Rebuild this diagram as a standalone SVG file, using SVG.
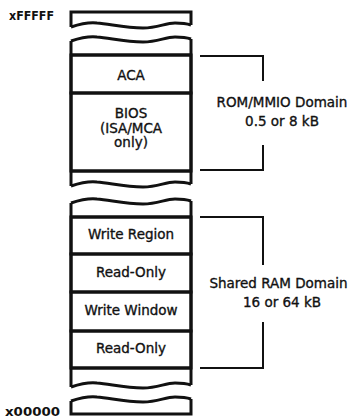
<svg xmlns="http://www.w3.org/2000/svg" xmlns:xlink="http://www.w3.org/1999/xlink" width="349" height="419" viewBox="0 0 349 419">
<style>
.s{fill:none;stroke:#111;stroke-width:3;stroke-linejoin:miter}
.b{fill:none;stroke:#111;stroke-width:2}
.t{font-family:"DejaVu Sans",sans-serif;font-size:13.5px;fill:#111;stroke:#111;stroke-width:0.35;text-anchor:middle}
.a{font-family:"DejaVu Sans",sans-serif;font-size:12.5px;font-weight:bold;fill:#111}
</style>
<defs>
<path id="wave" class="s" d="M71,0 C80,-3 88,-5 97,-4 C110,-3 125,1 143,1 C158,1 165,-4 175,-4 C183,-4 188,-3 191,-2"/>
</defs>
<rect width="349" height="419" fill="#fff"/>
<g id="addr-labels">
<text class="a" x="9" y="20" textLength="45" lengthAdjust="spacingAndGlyphs">xFFFFF</text>
<text class="a" x="5" y="416" textLength="55" lengthAdjust="spacingAndGlyphs">x00000</text>
</g>
<g id="top-cap">
<path class="s" d="M71,27 V12 H191 V25"/>
<use xlink:href="#wave" transform="translate(0,27)"/>
</g>
<g id="rom-section">
<use xlink:href="#wave" transform="translate(0,41)"/>
<path class="s" d="M71,41 V186 M191,39 V184 M71,55 H191 M71,171 H191"/>
<use xlink:href="#wave" transform="translate(0,186)"/>
</g>
<g id="aca">
<rect class="s" x="71" y="55" width="120" height="38"/>
<text class="t" x="131" y="80">ACA</text>
</g>
<g id="bios">
<rect class="s" x="71" y="93" width="120" height="78"/>
<text class="t" x="131" y="118">BIOS</text>
<text class="t" x="131" y="132.5">(ISA/MCA</text>
<text class="t" x="131" y="147">only)</text>
</g>
<g id="ram-section">
<use xlink:href="#wave" transform="translate(0,203)"/>
<path class="s" d="M71,203 V387 M191,201 V385 M71,217 H191 M71,368 H191"/>
<use xlink:href="#wave" transform="translate(0,387)"/>
</g>
<g id="write-region">
<rect class="s" x="71" y="217" width="120" height="37"/>
<text class="t" x="131" y="239">Write Region</text>
</g>
<g id="read-only-1">
<rect class="s" x="71" y="254" width="120" height="38"/>
<text class="t" x="131" y="277">Read-Only</text>
</g>
<g id="write-window">
<rect class="s" x="71" y="292" width="120" height="39"/>
<text class="t" x="131" y="315">Write Window</text>
</g>
<g id="read-only-2">
<rect class="s" x="71" y="331" width="120" height="37"/>
<text class="t" x="131" y="353">Read-Only</text>
</g>
<g id="bottom-cap">
<use xlink:href="#wave" transform="translate(0,401)"/>
<path class="s" d="M71,401 V414 H191 V399"/>
</g>
<g id="connectors">
<polyline class="b" points="200,56 263,56 263,81"/>
<polyline class="b" points="263,145 263,170 200,170"/>
<polyline class="b" points="200,217 263,217 263,265"/>
<polyline class="b" points="263,322 263,368 200,368"/>
</g>
<g id="rom-domain-label">
<text class="t" x="282" y="107">ROM/MMIO Domain</text>
<text class="t" x="282" y="126">0.5 or 8 kB</text>
</g>
<g id="ram-domain-label">
<text class="t" x="278.5" y="288">Shared RAM Domain</text>
<text class="t" x="282" y="307">16 or 64 kB</text>
</g>
</svg>
